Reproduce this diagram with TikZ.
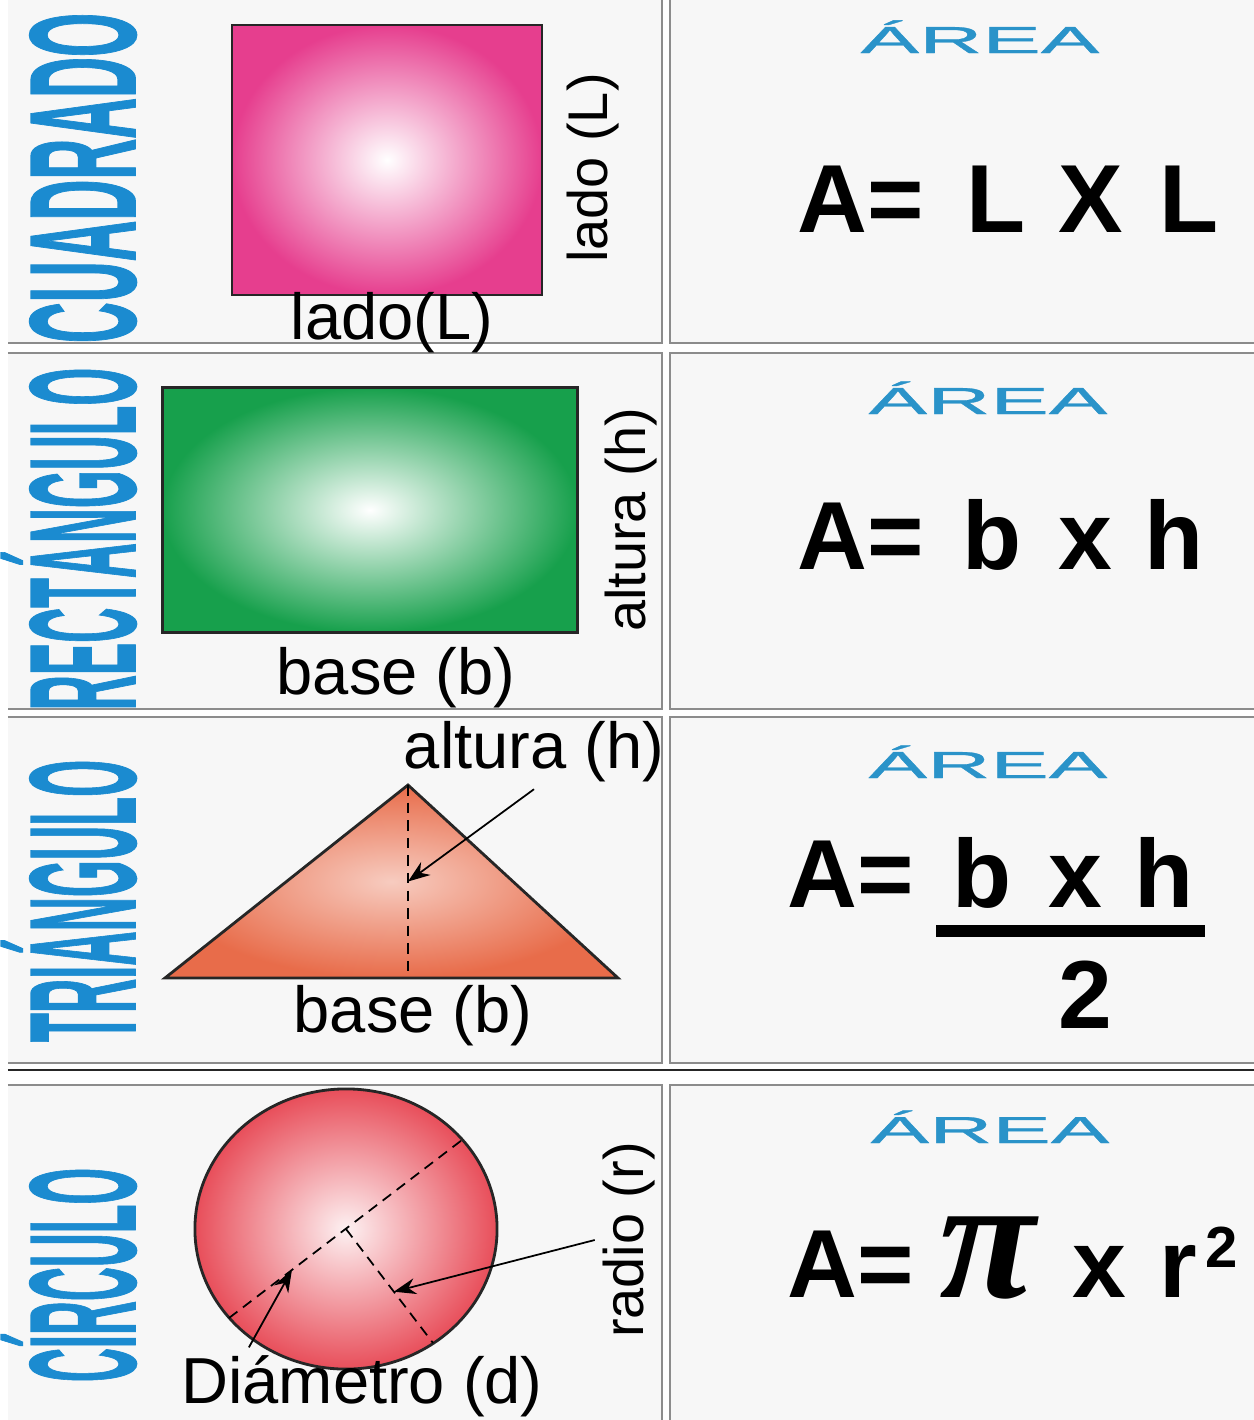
\documentclass[tikz,border=0pt]{standalone}
\usepackage{fontspec}
\setmainfont{Liberation Sans}
\newfontfamily\pifont{Liberation Serif}
\newfontfamily\titlefont[BoldFeatures={FakeBold=1.2}]{Liberation Sans}
\newfontfamily\areafont[FakeBold=0.7]{Liberation Sans}
\usepackage{graphicx}
\usetikzlibrary{positioning, arrows.meta, calc, shapes.geometric}
\definecolor{titleblue}{HTML}{1B8BD0}
\definecolor{areablue}{HTML}{2A93C9}
\definecolor{panelbg}{HTML}{F7F7F7}
\definecolor{framegray}{HTML}{8C8C8C}
\definecolor{sqPink}{HTML}{E63E8E}
\definecolor{rectGreen}{HTML}{17A04C}
\definecolor{triOrange}{HTML}{E86C4A}
\definecolor{circRed}{HTML}{E84E5A}

\begin{document}
\begin{tikzpicture}[x=0.01cm, y=-0.01cm, frame/.style={draw=framegray, line width=0.6pt},title/.style={rotate=90, anchor=base, inner sep=0pt, text=titleblue, font=\titlefont\fontsize{10}{12}\selectfont\bfseries},area/.style={text=areablue, inner sep=0pt, anchor=base, font=\areafont\fontsize{10.7}{12}\selectfont},formula/.style={inner sep=0pt, anchor=base west, font=\fontsize{27.5}{30}\selectfont\bfseries},lbl/.style={inner sep=2pt, anchor=base, font=\fontsize{18.5}{20}\selectfont},vlbl/.style={rotate=90, inner sep=2pt, anchor=base, font=\fontsize{15.9}{18}\selectfont},figure/.style={draw=black!85, line width=0.8pt, shade},guide/.style={line width=0.5pt, dash pattern=on 3pt off 2pt},ptr/.style={line width=0.5pt, -{Stealth[length=2.2mm, width=1.6mm]}}]
\useasboundingbox (0,0) rectangle (1254,1420);
\fill[white] (0,0) rectangle (1254,1420);
\foreach \ya/\yb in {-5/343, 353/709, 717/1063, 1085/1430} {
  \fill[panelbg] (8,\ya) rectangle (662,\yb); \draw[frame] (8,\ya) -- (662,\ya) -- (662,\yb) -- (8,\yb);
  \fill[panelbg] (670,\ya) rectangle (1260,\yb); \draw[frame] (1260,\ya) -- (670,\ya) -- (670,\yb) -- (1260,\yb);
}
\draw[line width=0.8pt, black!85] (8,1070) -- (1254,1070);
\node[title] (tCuad) at (135,178) {\scalebox{1.61}[4.29]{CUADRADO}};
\node[title] (tRect) at (135,539) {\scalebox{1.38}[4.29]{RECTÁNGULO}};
\node[title] (tTri) at (135,901) {\scalebox{1.35}[4.29]{TRIÁNGULO}};
\node[title] (tCirc) at (135,1275) {\scalebox{1.337}[4.29]{CÍRCULO}};
\node[figure, inner color=white, outer color=sqPink, minimum width=3.10cm, minimum height=2.70cm] (sq) at (387,160) {};
\node[lbl] (ladoH) at (392,339) {lado(L)};
\node[vlbl] (ladoV) at (607,168) {lado (L)};
\node[figure, inner color=white, outer color=rectGreen, minimum width=4.15cm, minimum height=2.45cm] (rect) at (370,510) {};
\node[lbl] (baseR) at (396,694) {base (b)};
\node[vlbl] (altR) at (645,520) {altura (h)};
\coordinate (tl) at (165,978); \coordinate (ta) at (408,785); \coordinate (tr) at (618,978); \coordinate (tf) at (408,978);
\path[figure, inner color=triOrange!35, outer color=triOrange] (tl) -- (ta) -- (tr) -- cycle;
\draw[guide] (ta) -- (tf);
\coordinate (hmark) at ($(ta)!0.5!(tf)$);
\node[lbl] (altT) at (534,768) {altura (h)};
\node[lbl] (baseT) at (413,1032) {base (b)};
\draw[ptr] (altT.south) -- (hmark);
\node[figure, ellipse, inner color=circRed!8, outer color=circRed, minimum width=3.02cm, minimum height=2.80cm] (circ) at (346,1229) {};
\coordinate (d1) at (229,1318); \coordinate (d2) at (462,1140); \coordinate (rend) at (433,1343);
\draw[guide] (d1) -- (d2);
\draw[guide] (circ.center) -- (rend);
\coordinate (dmark) at ($(d1)!0.27!(d2)$); \coordinate (rmark) at ($(circ.center)!0.55!(rend)$);
\node[lbl] (diam) at (362,1403) {Diámetro (d)};
\node[vlbl] (radV) at (643,1240) {radio (r)};
\draw[ptr] ($(diam.north west)!0.2!(diam.north east)$) -- (dmark);
\draw[ptr] (radV.north) -- (rmark);
\node[area] (arCuad) at (980,53) {\scalebox{2.33}[1]{ÁREA}};
\node[area] (arRect) at (988,414) {\scalebox{2.33}[1]{ÁREA}};
\node[area] (arTri) at (988,778) {\scalebox{2.33}[1]{ÁREA}};
\node[area] (arCirc) at (990,1143) {\scalebox{2.33}[1]{ÁREA}};
\node[formula] (fCuad) at (797,232) {A=\hspace{0.43cm}L\hspace{0.32cm}X\hspace{0.37cm}L};
\node[formula] (fRect) at (797,569) {A=\hspace{0.39cm}b\hspace{0.36cm}x\hspace{0.33cm}h};
\node[formula] (fTri) at (787,907) {A=\hspace{0.39cm}b\hspace{0.36cm}x\hspace{0.33cm}h};
\draw[line width=3.4pt] (936,931) -- (1205,931);
\node[formula, anchor=base] (fTwo) at (1085,1028) {2};
\node[formula] (fCircA) at (787,1297) {A=};
\node[formula, font={\pifont\fontsize{50}{50}\selectfont\bfseries\itshape}] (fPi) at (939,1297) {π};
\node[formula] (fCircR) at (1072,1297) {x\hspace{0.33cm}r\hspace{0.08cm}\raisebox{8.3pt}{\fontsize{16.5}{18}\selectfont 2}};
\end{tikzpicture}
\end{document}
